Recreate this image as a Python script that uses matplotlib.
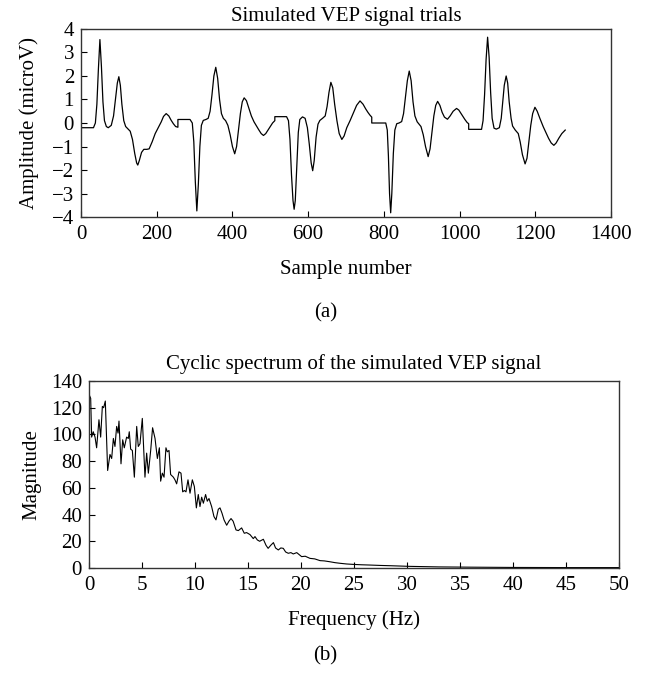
"""
Simulated VEP trials and their cyclic spectrum
"""

import matplotlib
matplotlib.use("Agg")
import matplotlib.pyplot as plt

plt.rcParams["font.family"] = ["Liberation Serif", "DejaVu Serif"]
plt.rcParams["font.size"] = 15

# signal vertices, trial by trial (256 samples each)
SAMPLE = [
    0, 33, 38, 42, 46, 50, 54, 58, 62, 67, 72, 80, 86, 91, 96, 100, 104, 108, 113, 118,
    124, 130, 136, 142, 147, 150, 154, 160, 166, 174, 180, 188, 196, 204, 212, 218, 225, 232, 238, 244,
    250, 256,
    256, 288, 294, 298, 302, 306, 310, 314, 318, 323, 330, 336, 341, 346, 351, 356, 361, 366, 371, 376,
    382, 388, 394, 400, 406, 411, 416, 421, 426, 431, 437, 443, 450, 457, 464, 470, 476, 482, 488, 494,
    500, 506, 512,
    512, 543, 548, 552, 556, 560, 563, 566, 570, 574, 578, 585, 592, 598, 603, 608, 612, 616, 621, 626,
    631, 638, 645, 650, 655, 660, 665, 670, 676, 682, 689, 695, 702, 711, 720, 728, 737, 745, 752, 758,
    763, 768,
    768, 805, 809, 812, 815, 818, 821, 825, 829, 834, 840, 847, 852, 857, 862, 867, 872, 877, 882, 888,
    893, 898, 904, 910, 917, 922, 927, 932, 937, 942, 948, 954, 960, 968, 975, 983, 992, 998, 1006, 1014,
    1020, 1024,
    1024, 1058, 1062, 1066, 1070, 1074, 1078, 1082, 1086, 1091, 1097, 1105, 1110, 1114, 1118, 1123, 1127, 1131, 1136, 1140,
    1147, 1155, 1160, 1166, 1173, 1178, 1183, 1188, 1193, 1199, 1205, 1212, 1221, 1228, 1235, 1242, 1249, 1255, 1262, 1270,
    1279,
]
AMPLITUDE = [
    -0.2, -0.2, 0.0, 0.8, 2.3, 3.55, 2.4, 0.9, 0.1, -0.15, -0.2, -0.1, 0.3, 1.0, 1.7, 1.97, 1.6, 0.8, 0.1, -0.15,
    -0.25, -0.35, -0.7, -1.3, -1.7, -1.79, -1.6, -1.25, -1.12, -1.12, -1.1, -0.8, -0.45, -0.2, 0.05, 0.28, 0.4, 0.3, 0.12, -0.03,
    -0.15, -0.18,
    0.15, 0.15, 0.0, -0.8, -2.5, -3.74, -2.6, -1.0, -0.1, 0.11, 0.15, 0.2, 0.5, 1.2, 2.0, 2.37, 1.9, 1.0, 0.4, 0.2,
    0.1, -0.1, -0.5, -1.0, -1.31, -1.0, -0.3, 0.4, 0.9, 1.07, 0.95, 0.65, 0.3, 0.05, -0.14, -0.3, -0.45, -0.53, -0.45, -0.3,
    -0.15, 0.0, 0.1,
    0.27, 0.27, 0.1, -0.7, -2.2, -3.3, -3.67, -3.3, -1.8, -0.4, 0.15, 0.26, 0.2, -0.2, -0.9, -1.7, -2.03, -1.6, -0.6, -0.05,
    0.11, 0.2, 0.3, 0.7, 1.3, 1.73, 1.5, 0.8, 0.1, -0.45, -0.7, -0.55, -0.2, 0.11, 0.45, 0.75, 0.94, 0.8, 0.6, 0.45,
    0.34, 0.25,
    0.0, 0.0, -0.3, -1.4, -3.0, -3.82, -3.0, -1.3, -0.3, -0.03, 0.0, 0.06, 0.4, 1.1, 1.8, 2.21, 1.8, 0.9, 0.3, 0.05,
    -0.05, -0.15, -0.5, -1.0, -1.43, -1.1, -0.4, 0.3, 0.75, 0.92, 0.75, 0.45, 0.25, 0.16, 0.3, 0.5, 0.62, 0.55, 0.35, 0.15,
    0.02, -0.03,
    -0.27, -0.27, 0.1, 1.2, 2.7, 3.65, 2.8, 1.3, 0.2, -0.22, -0.26, -0.2, 0.2, 0.9, 1.6, 2.0, 1.7, 0.9, 0.2, -0.13,
    -0.3, -0.45, -0.8, -1.35, -1.74, -1.5, -0.8, -0.1, 0.4, 0.67, 0.5, 0.2, -0.16, -0.4, -0.65, -0.85, -0.95, -0.85, -0.65, -0.45,
    -0.3,
]

# cyclic spectrum vertices
FREQ_HZ = [
    0.0, 0.16, 0.25, 0.4, 0.57, 0.72, 0.94, 1.1, 1.26, 1.38,
    1.54, 1.76, 1.98, 2.14, 2.3, 2.45, 2.61, 2.74, 2.83, 3.02,
    3.18, 3.33, 3.55, 3.71, 3.8, 3.93, 4.09, 4.28, 4.5, 4.65,
    4.81, 5.03, 5.28, 5.44, 5.6, 5.82, 6.0, 6.23, 6.45, 6.64,
    6.76, 6.92, 7.08, 7.26, 7.39, 7.55, 7.7, 7.96, 8.11, 8.27,
    8.49, 8.68, 8.84, 9.0, 9.15, 9.34, 9.53, 9.75, 9.94, 10.13,
    10.31, 10.47, 10.63, 10.79, 11.0, 11.16, 11.32, 11.57, 11.79, 11.98,
    12.2, 12.36, 12.55, 12.74, 12.99, 13.2, 13.4, 13.6, 13.87, 14.09,
    14.4, 14.65, 14.87, 15.19, 15.5, 15.66, 15.88, 16.1, 16.45, 16.7,
    16.9, 17.15, 17.4, 17.6, 17.86, 18.1, 18.33, 18.55, 18.8, 19.05,
    19.27, 19.6, 20.06, 20.4, 20.85, 21.3, 21.8, 22.2, 22.7, 23.2,
    23.7, 24.3, 24.9, 25.7, 26.5, 27.5, 28.4, 30.3, 33.0, 36.0,
    40.0, 45.0, 50.0,
]
MAGNITUDE = [
    130, 127, 98, 102, 98, 90, 111, 98, 121, 120,
    125, 73, 85, 82, 97, 91, 106, 101, 110, 78,
    96, 90, 98, 97, 102, 89, 88, 68, 106, 91,
    93, 112, 68, 86, 71, 88, 105, 97, 82, 90,
    65, 71, 68, 90, 87, 88, 70, 68, 66, 63,
    72, 71, 57, 58, 57, 66, 56, 66, 61, 45,
    55, 46, 53, 48.5, 55, 50, 52, 46, 38.5, 36,
    44, 45, 41, 36, 32, 35, 37, 35, 28.5, 28,
    30, 26, 26.5, 25, 22, 23.5, 21, 20, 21.5, 17,
    14.7, 17, 19, 15, 13.5, 15, 14.7, 12, 11, 11.5,
    10.5, 11.5, 8.5, 8.8, 7.2, 6.8, 5.5, 5.3, 4.7, 4.0,
    3.5, 3.0, 2.7, 2.4, 2.2, 1.9, 1.7, 1.2, 0.8, 0.6,
    0.4, 0.3, 0.3,
]


def style_axes(ax):
    ax.tick_params(direction="in", top=False, right=False, length=4, width=0.8)
    ax.tick_params(axis="x", pad=6)
    ax.tick_params(axis="y", pad=5)
    for sp in ax.spines.values():
        sp.set_linewidth(1.0)
        sp.set_color("#333333")


fig = plt.figure(figsize=(6.51, 6.74), dpi=100)

ax1 = fig.add_axes([0.1244, 0.678, 0.8142, 0.279])
ax1.plot(SAMPLE, AMPLITUDE, color="black", linewidth=0.9)
ax1.set_xlim(0, 1400)
ax1.set_ylim(-4, 4)
ax1.set_xticks(range(0, 1401, 200))
ax1.set_yticks(range(-4, 5))
ax1.set_title("Simulated VEP signal trials", fontsize=15, pad=6)
ax1.set_xlabel("Sample number", labelpad=11)
ax1.set_ylabel("Amplitude (microV)", labelpad=9)
style_axes(ax1)

ax2 = fig.add_axes([0.1367, 0.1573, 0.8141, 0.2774])
ax2.plot(FREQ_HZ, MAGNITUDE, color="black", linewidth=0.8)
ax2.set_xlim(0, 50)
ax2.set_ylim(0, 140)
ax2.set_xticks(range(0, 51, 5))
ax2.set_yticks(range(0, 141, 20))
ax2.set_title("Cyclic spectrum of the simulated VEP signal", fontsize=15, pad=9)
ax2.set_xlabel("Frequency (Hz)", labelpad=11)
ax2.set_ylabel("Magnitude", labelpad=7)
style_axes(ax2)

fig.text(0.5, 1 - 313 / 674, "(a)", ha="center", va="center", fontsize=15)
fig.text(0.5, 1 - 656 / 674, "(b)", ha="center", va="center", fontsize=15)

fig.savefig("out.png", dpi=100)
